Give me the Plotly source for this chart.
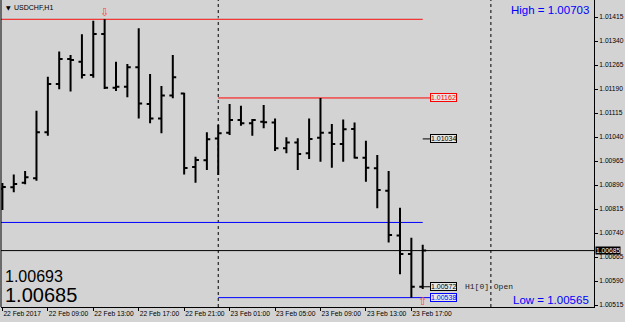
import pandas as pd
import plotly.graph_objects as go

# ---------------- data ----------------
symbol_title = "USDCHF,H1"
times = [t.strftime("%d %b %H:%M") for t in pd.date_range("2017-02-22 05:00", periods=38, freq="h")]

opens = [1.00878, 1.00883, 1.00897, 1.00911, 1.01055, 1.01206, 1.01284, 1.01275, 1.01234, 1.01362,
         1.01194, 1.01197, 1.01258, 1.01143, 1.01098, 1.01170, 1.01176, 1.00946, 1.00967, 1.01035,
         1.01053, 1.01093, 1.01083, 1.01088, 1.01085, 1.01005, 1.01023, 1.00989, 1.01038, 1.01053,
         1.01018, 1.01065, 1.00975, 1.00942, 1.00872, 1.00732, 1.00674, 1.00572]
highs = [1.00896, 1.00923, 1.00934, 1.01122, 1.01228, 1.01307, 1.01296, 1.01361, 1.01403, 1.01408,
         1.01275, 1.01268, 1.01380, 1.01237, 1.01199, 1.01296, 1.01178, 1.00978, 1.01055, 1.01078,
         1.01143, 1.01138, 1.01096, 1.01140, 1.01098, 1.01039, 1.01036, 1.01098, 1.01162, 1.01081,
         1.01095, 1.01085, 1.01028, 1.00984, 1.00934, 1.00819, 1.00725, 1.00703]
lows = [1.00812, 1.00867, 1.00892, 1.00903, 1.01044, 1.01189, 1.01182, 1.01223, 1.01225, 1.01190,
        1.01184, 1.01164, 1.01098, 1.01083, 1.01052, 1.01161, 1.00923, 1.00897, 1.00937, 1.00921,
        1.01046, 1.01075, 1.01044, 1.01067, 1.00996, 1.00989, 1.00937, 1.00971, 1.00963, 1.00944,
        1.00963, 1.00973, 1.00900, 1.00817, 1.00710, 1.00611, 1.00538, 1.00565]
closes = [1.00884, 1.00893, 1.00914, 1.01055, 1.01206, 1.01284, 1.01281, 1.01234, 1.01362, 1.01194,
          1.01197, 1.01258, 1.01145, 1.01098, 1.01170, 1.01227, 1.00943, 1.00968, 1.01033, 1.01052,
          1.01093, 1.01083, 1.01093, 1.01086, 1.01005, 1.01023, 1.00987, 1.01034, 1.01053, 1.01018,
          1.01064, 1.00975, 1.00944, 1.00874, 1.00734, 1.00674, 1.00572, 1.00685]

x_tick_index = [0, 4, 8, 12, 16, 20, 24, 28, 32, 36]
x_tick_text = ["22 Feb 2017", "22 Feb 09:00", "22 Feb 13:00", "22 Feb 17:00", "22 Feb 21:00",
               "23 Feb 01:00", "23 Feb 05:00", "23 Feb 09:00", "23 Feb 13:00", "23 Feb 17:00"]
y_tick_vals = [1.00515, 1.00590, 1.00665, 1.00740, 1.00815, 1.00890, 1.00965,
               1.01040, 1.01115, 1.01190, 1.01265, 1.01340, 1.01415]

day_separators = [19, 43]          # 23 Feb 00:00, 24 Feb 00:00 (bar index)
high_level = 1.01408
mid_blue_level = 1.00773
current_price = 1.00685
day_high_level = 1.01162
day_low_level = 1.00538
close_label_level = 1.01034
open_label_level = 1.00572
bid_text = "1.00693"
ask_text = "1.00685"
high_text = "High = 1.00703"
low_text = "Low = 1.00565"

# ---------------- layout constants ----------------
BG = "#d3d3d3"
W, H = 625, 322
PL, PR, PT, PB = 1, 594, 0, 307          # plot area in pixels
BAR0_PX, BAR_STEP = 2.4, 11.36
PRICE_REF, PRICE_REF_PX, PX_PER_PRICE = 1.01415, 17.0, 32000.0
AX_FONT = dict(family="Liberation Sans", size=6.7, color="black")

def xdata(px):
    return (px - BAR0_PX) / BAR_STEP

def ydata(py):
    return PRICE_REF - (py - PRICE_REF_PX) / PX_PER_PRICE

def xp(px):
    return (px - PL) / (PR - PL)

def yp(py):
    return 1 - (py - PT) / (PB - PT)

x = list(range(len(times)))
last = x[-1]
label_x = last + 0.64

fig = go.Figure(go.Ohlc(
    x=x, open=opens, high=highs, low=lows, close=closes,
    increasing=dict(line=dict(color="black", width=2)),
    decreasing=dict(line=dict(color="black", width=2)),
    tickwidth=0.3, hoverinfo="skip", showlegend=False,
))

shapes = []
for d in day_separators:
    shapes.append(dict(type="line", xref="x", yref="paper", x0=d, x1=d, y0=0, y1=1,
                       line=dict(color="black", width=1, dash="dot"), layer="below"))
# high line (red with light cyan edge)
shapes.append(dict(type="line", xref="paper", yref="y", x0=0, x1=xp(BAR0_PX + last * BAR_STEP),
                   y0=high_level + 1 / PX_PER_PRICE, y1=high_level + 1 / PX_PER_PRICE,
                   line=dict(color="#bfefef", width=1), layer="below"))
shapes.append(dict(type="line", xref="paper", yref="y", x0=0, x1=xp(BAR0_PX + last * BAR_STEP),
                   y0=high_level, y1=high_level, line=dict(color="#ff0000", width=1), layer="below"))
shapes.append(dict(type="line", xref="paper", yref="y", x0=0, x1=xp(BAR0_PX + last * BAR_STEP),
                   y0=mid_blue_level, y1=mid_blue_level, line=dict(color="#0000ff", width=1), layer="below"))
shapes.append(dict(type="line", xref="paper", yref="y", x0=0, x1=1,
                   y0=current_price, y1=current_price, line=dict(color="black", width=1), layer="below"))
shapes.append(dict(type="line", xref="x", yref="y", x0=day_separators[0], x1=label_x,
                   y0=day_high_level, y1=day_high_level, line=dict(color="#ff0000", width=1), layer="below"))
shapes.append(dict(type="line", xref="x", yref="y", x0=day_separators[0], x1=label_x,
                   y0=day_low_level, y1=day_low_level, line=dict(color="#0000ff", width=1), layer="below"))
for lv in (close_label_level, open_label_level):
    shapes.append(dict(type="line", xref="x", yref="y", x0=last, x1=label_x,
                       y0=lv, y1=lv, line=dict(color="black", width=1), layer="below"))
# left frame
shapes.append(dict(type="line", xref="paper", yref="paper", x0=0, x1=0, y0=0, y1=1,
                   line=dict(color="black", width=1)))

ann = []
def box(level, text, color, fill, txt):
    ann.append(dict(x=label_x, y=level, xref="x", yref="y", text=text, showarrow=False,
                    xanchor="left", yanchor="middle", bgcolor=fill, bordercolor=color,
                    borderwidth=1, borderpad=0,
                    font=dict(family="Liberation Sans", size=7, color=txt)))

box(day_high_level, "1.01162", "#ff0000", "#e6e6e6", "#ff0000")
box(close_label_level, "1.01034", "black", "#e6e6e6", "black")
box(open_label_level, "1.00572", "black", "#e6e6e6", "black")
box(day_low_level, "1.00538", "#0000ff", "#e6e6e6", "#0000ff")

ann.append(dict(x=label_x + 2.9, y=open_label_level, xref="x", yref="y", text="H1[0] Open",
                showarrow=False, xanchor="left", yanchor="middle",
                font=dict(family="Liberation Mono", size=8, color="#222222")))
# current price on axis
ann.append(dict(x=1, y=current_price, xref="paper", yref="y", text="1.00685", showarrow=False,
                xanchor="left", yanchor="middle", xshift=1, bgcolor="black", borderpad=0,
                font=dict(family="Liberation Sans", size=6.7, color="white")))
# title
ann.append(dict(x=xp(4), y=yp(7.5), xref="paper", yref="paper", text="▼", showarrow=False,
                xanchor="left", yanchor="middle", font=dict(family="DejaVu Sans", size=6, color="black")))
ann.append(dict(x=xp(12), y=yp(7.5), xref="paper", yref="paper", text=symbol_title, showarrow=False,
                xanchor="left", yanchor="middle", font=dict(family="Liberation Sans", size=7, color="black")))
# high / low texts
ann.append(dict(x=xp(591), y=yp(10), xref="paper", yref="paper", text=high_text, showarrow=False,
                xanchor="right", yanchor="middle", font=dict(family="Liberation Sans", size=11.5, color="#0000ff")))
ann.append(dict(x=xp(591), y=yp(300), xref="paper", yref="paper", text=low_text, showarrow=False,
                xanchor="right", yanchor="middle", font=dict(family="Liberation Sans", size=11.5, color="#0000ff")))
# bid / ask
ann.append(dict(x=xp(3), y=yp(276), xref="paper", yref="paper", text=bid_text, showarrow=False,
                xanchor="left", yanchor="middle", font=dict(family="Liberation Sans", size=16, color="black")))
ann.append(dict(x=xp(3), y=yp(295), xref="paper", yref="paper", text=ask_text, showarrow=False,
                xanchor="left", yanchor="middle", font=dict(family="Liberation Sans", size=20, color="black")))
# arrows at high / low
hi_idx = highs.index(max(highs))
ann.append(dict(x=hi_idx, y=yp(12), xref="x", yref="paper", text="⇩", showarrow=False,
                xanchor="center", yanchor="middle", font=dict(family="DejaVu Sans", size=11, color="#ff4040")))
ann.append(dict(x=last, y=yp(301), xref="x", yref="paper", text="⇧", showarrow=False,
                xanchor="center", yanchor="middle", font=dict(family="DejaVu Sans", size=11, color="#ff4040")))

fig.update_layout(
    template="none",
    width=W, height=H,
    margin=dict(l=PL, r=W - PR, t=PT, b=H - PB, pad=0),
    paper_bgcolor=BG, plot_bgcolor=BG,
    showlegend=False,
    shapes=shapes, annotations=ann,
    xaxis=dict(range=[xdata(PL), xdata(PR)], rangeslider=dict(visible=False),
               tickmode="array", tickvals=x_tick_index, ticktext=x_tick_text,
               ticks="outside", ticklen=3, tickcolor="black", tickwidth=1,
               ticklabelposition="outside right", tickangle=0,
               showline=True, linecolor="black", linewidth=1,
               showgrid=False, zeroline=False, automargin=False, fixedrange=True,
               tickfont=AX_FONT),
    yaxis=dict(range=[ydata(PB), ydata(PT)], side="right",
               tickmode="array", tickvals=y_tick_vals, ticktext=[f"{v:.5f}" for v in y_tick_vals],
               ticks="outside", ticklen=3, tickcolor="black", tickwidth=1,
               showline=True, linecolor="black", linewidth=1,
               showgrid=False, zeroline=False, automargin=False, fixedrange=True,
               tickfont=AX_FONT),
)

fig.write_html("out.html", config={"displayModeBar": False})
